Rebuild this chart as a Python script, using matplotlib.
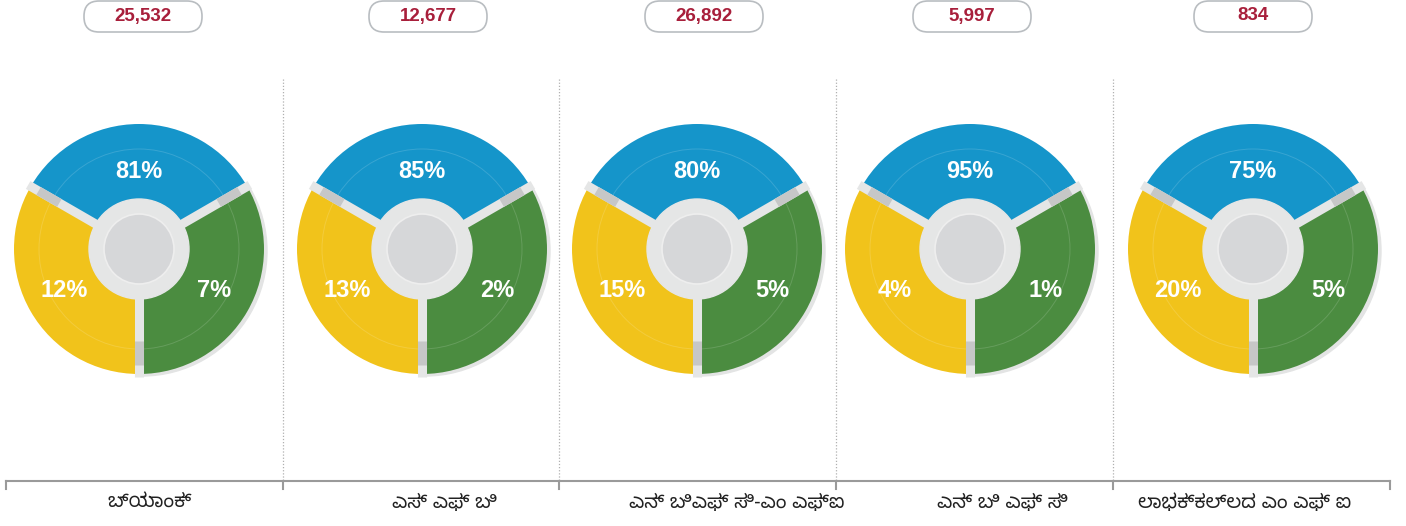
import numpy as np
import matplotlib
matplotlib.use("Agg")
import matplotlib.pyplot as plt
from matplotlib import font_manager
from matplotlib.patches import FancyBboxPatch, Circle, Wedge

# Data
categories = ["ಬ್ಯಾಂಕ್", "ಎಸ್ ಎಫ್ ಬಿ", "ಎನ್ ಬಿಎಫ್ ಸಿ-ಎಂ ಎಫ್ಐ", "ಎನ್ ಬಿ ಎಫ್ ಸಿ", "ಲಾಭಕ್ಕಲ್ಲದ ಎಂ ಎಫ್ ಐ"]
totals = ["25,532", "12,677", "26,892", "5,997", "834"]
blue_pct = [81, 85, 80, 95, 75]
yellow_pct = [12, 13, 15, 4, 20]
green_pct = [7, 2, 5, 1, 5]

BLUE = "#1595ca"
YELLOW = "#f1c31b"
GREEN = "#4b8c40"
RING = "#e5e6e6"
SPOKE_DARK = "#c6c7c7"

# pick a font that has Kannada glyphs if one is around
installed = {f.name for f in font_manager.fontManager.ttflist}
kn_font = "DejaVu Sans"
for name in ["Noto Sans Kannada", "Noto Sans Kannada UI", "Lohit Kannada", "Tunga", "Kedage", "Mallige"]:
    if name in installed:
        kn_font = name
        break

W, H = 1406, 526
fig = plt.figure(figsize=(W / 100, H / 100), dpi=100)
ax = fig.add_axes([0, 0, 1, 1])
ax.set_xlim(0, W)
ax.set_ylim(0, H)
ax.set_aspect("equal")
ax.axis("off")


def py(y):
    # pixel row from the top -> data y
    return H - y


pie_x = [139, 422, 697, 970, 1253]
box_x = [143, 428, 704, 972, 1253]
label_x = [150, 444, 737, 1002, 1245]
dividers = [6, 283, 559, 836, 1113, 1390]
cy = py(249)
R = 125

for i in range(len(categories)):
    cx = pie_x[i]

    # soft shadow behind the green slice
    ax.add_patch(Wedge((cx + 3, cy - 2), R, 270, 30, color="#e3e4e4", zorder=1))

    ax.pie([1, 1, 1], startangle=30, counterclock=True, center=(cx, cy), radius=R,
           colors=[BLUE, YELLOW, GREEN], wedgeprops=dict(linewidth=0), frame=True)

    # faint inner guide circle
    ax.add_patch(Circle((cx, cy), 100, fill=False, edgecolor="white", alpha=0.15,
                        linewidth=0.7, zorder=3))

    # spokes between slices
    for ang in [30, 150, 270]:
        a = np.deg2rad(ang)
        ax.plot([cx + 45 * np.cos(a), cx + (R + 3) * np.cos(a)],
                [cy + 45 * np.sin(a), cy + (R + 3) * np.sin(a)],
                color=RING, linewidth=6.5, solid_capstyle="butt", zorder=4)
        ax.plot([cx + 92 * np.cos(a), cx + 116 * np.cos(a)],
                [cy + 92 * np.sin(a), cy + 116 * np.sin(a)],
                color=SPOKE_DARK, linewidth=6.5, solid_capstyle="butt", zorder=5)

    # centre hub
    ax.add_patch(Circle((cx, cy), 50, color=RING, zorder=6))
    ax.add_patch(Circle((cx, cy), 35, facecolor="#d6d7d9", edgecolor="#eeeeee",
                        linewidth=1.2, zorder=7))

    # percent labels
    vals = [blue_pct[i], yellow_pct[i], green_pct[i]]
    for v, ang, r in zip(vals, [90, 209, 331], [77, 86, 86]):
        a = np.deg2rad(ang)
        ax.text(cx + r * np.cos(a), cy + r * np.sin(a), f"{v}%", color="white",
                fontsize=17, fontweight="bold", family="Liberation Sans",
                ha="center", va="center", zorder=8)

    # total in the rounded box on top
    bx = box_x[i]
    ax.add_patch(FancyBboxPatch((bx - 59, py(32)), 118, 31,
                                boxstyle="round,pad=0,rounding_size=15",
                                facecolor="white", edgecolor="#b9bdc1", linewidth=1.2, zorder=2))
    ax.text(bx, py(16), totals[i], color="#a81f3b", fontsize=13.5, fontweight="bold",
            family="Liberation Sans", ha="center", va="center", zorder=3)

    ax.text(label_x[i], py(503), categories[i], fontsize=14,
            family=[kn_font, "DejaVu Sans"], ha="center", va="center", color="#222222")

# dotted dividers between panels
for x in dividers[1:-1]:
    ax.plot([x, x], [py(79), py(481)], color="#b0b0b0", linewidth=0.9,
            linestyle=(0, (1, 1.5)), zorder=0)

# bottom axis with ticks
ax.plot([dividers[0], dividers[-1]], [py(481), py(481)], color="#9a9a9a", linewidth=1.5)
for x in dividers:
    ax.plot([x, x], [py(481), py(489)], color="#9a9a9a", linewidth=1.5)

ax.set_xlim(0, W)
ax.set_ylim(0, H)
ax.axis("off")
fig.savefig("out.png", dpi=100)
